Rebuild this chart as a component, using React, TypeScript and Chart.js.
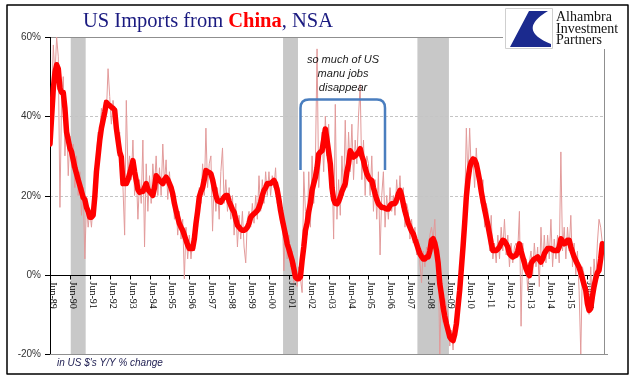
import { useEffect, useRef } from "react";
import { Chart, registerables } from "chart.js";

Chart.register(...registerables);

// Monthly series start at Jun-1989 (index 0) and end at Mar-2017
const START_YEAR = 1989;
const START_MONTH = 6;

const tickLabels = [
  "Jun-89", "Jun-90", "Jun-91", "Jun-92", "Jun-93", "Jun-94", "Jun-95", "Jun-96", "Jun-97",
  "Jun-98", "Jun-99", "Jun-00", "Jun-01", "Jun-02", "Jun-03", "Jun-04", "Jun-05", "Jun-06",
  "Jun-07", "Jun-08", "Jun-09", "Jun-10", "Jun-11", "Jun-12", "Jun-13", "Jun-14", "Jun-15", "Jun-16",
];

// Monthly Y/Y % change (thin line)
const rawYoY = [
  33, 45, 58, 50, 60, 55, 17, 45, 50, 30, 40, 25,
  35, 27, 33, 22, 30, 20, 26, 15, 22, 4, 18, 12,
  16, 12, 18, 22, 30, 36, 35, 42, 38, 44, 41, 52,
  45, 38, 44, 40, 42, 30, 36, 26, 22, 10, 44, 26,
  30, 24, 34, 20, 26, 14, 24, 18, 34, 7, 28, 16,
  25, 18, 28, 22, 30, 20, 27, 20, 33, 23, 29, 19,
  26, 20, 22, 14, 18, 10, 16, 9, 14, -1, 12, 4,
  10, 4, 9, 6, 16, 12, 22, 18, 28, 20, 37, 22,
  28, 30, 11, 24, 16, 22, 14, 26, 32, 18, 24, 16,
  22, 14, 20, 10, 18, 7, 15, 9, 16, 7, 3, 14,
  16, 12, 18, 13, 20, 14, 25, 16, 24, 18, 26, 20,
  26, 20, 25, 22, 27, 18, 22, 13, 17, 1, 13, 4,
  10, 2, 6, -2, 3, -3, 2, -1, -4.5, 26, 16, 10,
  26, 12, 30, 18, 28, 57, 22, 30, 36, 26, 40, 30,
  38, 26, 28, 9, 43, 14, 24, 15, 30, 20, 39, 22,
  36, 26, 38, 24, 34, 28, 40, 48, 24, 34, 20, 30,
  28, 20, 30, 16, 24, 14, 26, 5, 20, 26, 12, 20,
  14, 22, 16, 20, 15, 24, 18, 25, 17, 22, 12, 18,
  16, 9, 14, 8, 12, 5, 9, 3, -2, 6, 2, 7,
  6, 10, 12, 9, 14, 4, 6, -20, -2, -12, -6, -8,
  -10, -18, -14, -19, -13, -14, -4, -8, 4, 2, 16, 37,
  24, 37, 26, 30, 22, 32, 24, 26, 18, 24, 12, 18,
  16, 6, 15, 4, 8, 3, 10, 4, 12, 6, 14, 5,
  10, 2, 8, 3, 7, 8, 6, 16, -13, 8, 2, 4,
  -4, 3, 6, 0, 8, 2, 7, -3, 12, 2, 10, 3,
  10, 4, 14, 2, 9, 4, 10, 3, 31, 6, 12, 4,
  12, 6, 15, 2, 8, 0, 6, -4, -20, 2, 0, -6,
  -4, -10, 2, -8, 4, -2, 8, 14, 12, 8,
];

// Smoothed Y/Y % change (thick line)
const smoothYoY = [
  33, 40, 47, 51, 53, 52, 47, 46, 46, 42, 36, 34,
  32, 31, 29, 27, 25.5, 24, 22.5, 21, 19.5, 19, 17, 16,
  14.5, 14.5, 15, 19.6, 26, 30, 34, 37, 39, 41, 43.5, 43,
  42.7, 42.3, 42, 41.5, 37, 34, 31, 29.7, 23, 23, 23, 24,
  25.5, 27, 28.8, 26, 23.8, 21.5, 20.8, 21, 21, 22, 23, 21.5,
  21, 20.5, 20, 22, 25, 24.5, 23.8, 23.4, 23, 24, 24.6, 24,
  23, 22, 20.4, 18, 16.2, 14.5, 12.9, 12, 11.2, 10, 8.7, 7.5,
  6.6, 6.6, 6.6, 9, 12.9, 16, 19.6, 21, 22, 24, 26.3, 26,
  25.8, 25.5, 24, 22, 20, 18.7, 18.5, 18.3, 19, 19.6, 20, 20,
  18.5, 17.5, 16.5, 15.8, 14, 12.5, 12, 11.5, 11.2, 11.2, 11.5, 12,
  13, 14.5, 15, 15.4, 15.8, 16.2, 17, 18.3, 20, 21.3, 22, 23,
  23, 23, 23.4, 23.8, 23, 21.3, 19, 16.2, 14, 12, 10, 7.8,
  6.5, 5, 3.6, 1.5, -0.6, -1, -1, -0.5, 3.6, 7, 11.2, 13,
  16, 18, 21.3, 23, 24.6, 27, 30.5, 31, 31.3, 34, 36.8, 34,
  31, 28, 22, 19, 18, 17.9, 18.5, 19.6, 21, 22, 23, 26,
  28, 31.3, 30.5, 29.7, 30, 30.5, 31, 31.8, 30, 28.8, 27, 25.5,
  24.6, 24, 23.8, 22, 20.4, 19, 17.9, 17.5, 17, 17, 16.8, 16.6,
  16.6, 17.5, 17.9, 17.9, 18, 19, 20.4, 21.3, 20, 17.9, 16, 14.5,
  13, 12, 11, 10.3, 9, 7.8, 6.5, 5.3, 4.6, 4, 4, 4.5,
  4.5, 6, 8.7, 9.1, 8, 6.1, 3, -2.3, -5, -8.2, -10.5, -12.4,
  -14, -15.7, -16.3, -16.6, -15, -12.4, -8, -3.9, 1.5, 7, 13, 19.6,
  24, 27, 28.5, 29.2, 29, 28, 26, 23.8, 21, 18.7, 16.5, 14.5,
  12.5, 10.3, 8, 6.1, 6.1, 6.1, 6.5, 7, 8, 8.7, 8.5, 7.8,
  7, 5.3, 4.8, 4.5, 4.7, 4.9, 6, 7.8, 6, 4.5, 3, 1.5,
  0.5, -0.2, 2.8, 3.5, 4, 4.2, 4.5, 3.8, 3.2, 4, 5.3, 6,
  6.6, 6.6, 6.6, 6.3, 6.1, 6.1, 6.1, 7, 9.1, 8.5, 7.8, 8,
  8.7, 8.7, 7, 5.7, 4.5, 3.6, 2.7, 1.9, 0.5, -1, -2.5, -3.9,
  -7.3, -9, -8.5, -5.5, -3, -1, 0.5, 1.1, 4, 7.8,
];

const recessions = [
  ["Jul-90", "Mar-91"],
  ["Mar-01", "Nov-01"],
  ["Dec-07", "Jun-09"],
];

const yTicks = [60, 40, 20, 0, -20];
const dashedGrid = [20, 40];
const annotationLines = ["so much of US", "manu jobs", "disappear"];
const logoLines = ["Alhambra", "Investment", "Partners"];

const MONTHS = ["Jan", "Feb", "Mar", "Apr", "May", "Jun", "Jul", "Aug", "Sep", "Oct", "Nov", "Dec"];
function monthIndex(label: string): number {
  const [m, yy] = label.split("-");
  const yn = parseInt(yy, 10);
  const year = yn >= 50 ? 1900 + yn : 2000 + yn;
  return (year - START_YEAR) * 12 + (MONTHS.indexOf(m) + 1 - START_MONTH);
}

const NAVY = "#1a1a80";

const decor = {
  id: "decor",
  beforeDatasetsDraw(chart: any) {
    const { ctx, chartArea: a, scales } = chart;
    const x = scales.x;
    const y = scales.y;
    ctx.save();
    // recession bands
    ctx.fillStyle = "#c8c8c8";
    recessions.forEach(([s, e]) => {
      const x1 = x.getPixelForValue(monthIndex(s) - 0.5);
      const x2 = x.getPixelForValue(monthIndex(e) + 0.5);
      ctx.fillRect(x1, a.top, x2 - x1, a.bottom - a.top);
    });
    const hline = (py: number, x1: number, x2: number) => {
      ctx.beginPath();
      ctx.moveTo(x1, py);
      ctx.lineTo(x2, py);
      ctx.stroke();
    };
    // dashed gridlines
    ctx.lineWidth = 1;
    ctx.strokeStyle = "#c4c4c4";
    ctx.setLineDash([3, 2]);
    dashedGrid.forEach((v) => hline(Math.round(y.getPixelForValue(v)) + 0.5, a.left, a.right));
    ctx.setLineDash([]);
    // gray frame of plot
    ctx.strokeStyle = "#8f8f8f";
    hline(Math.round(y.getPixelForValue(60)) + 0.5, a.left, a.right);
    hline(Math.round(y.getPixelForValue(-20)) + 0.5, a.left, a.right + 4);
    ctx.beginPath();
    ctx.moveTo(Math.round(a.right) + 0.5, a.top);
    ctx.lineTo(Math.round(a.right) + 0.5, a.bottom);
    ctx.stroke();
    // left axis
    ctx.strokeStyle = "#000";
    const lx = Math.round(a.left) + 0.5;
    ctx.beginPath();
    ctx.moveTo(lx, a.top);
    ctx.lineTo(lx, a.bottom);
    ctx.stroke();
    // y ticks & labels
    ctx.font = "10px 'Liberation Sans'";
    ctx.fillStyle = "#333";
    ctx.textAlign = "right";
    ctx.textBaseline = "middle";
    yTicks.forEach((v) => {
      const py = Math.round(y.getPixelForValue(v)) + 0.5;
      hline(py, a.left - 5, a.left);
      ctx.fillText(v + "%", a.left - 9, py);
    });
    // zero axis
    const y0 = Math.round(y.getPixelForValue(0)) + 0.5;
    hline(y0, a.left, a.right);
    tickLabels.forEach((lab) => {
      const px = Math.round(x.getPixelForValue(monthIndex(lab))) + 0.5;
      ctx.beginPath();
      ctx.moveTo(px, y0);
      ctx.lineTo(px, y0 + 4);
      ctx.stroke();
    });
    // x labels rotated (reading top to bottom)
    ctx.font = "10px 'Liberation Serif'";
    ctx.fillStyle = "#000";
    ctx.textAlign = "left";
    ctx.textBaseline = "alphabetic";
    tickLabels.forEach((lab) => {
      const px = x.getPixelForValue(monthIndex(lab));
      ctx.save();
      ctx.translate(px, y0 + 6);
      ctx.rotate(Math.PI / 2);
      ctx.fillText(lab, 0, 0);
      ctx.restore();
    });
    ctx.restore();
  },
  afterDatasetsDraw(chart: any) {
    const { ctx } = chart;
    ctx.save();
    // annotation text
    ctx.font = "italic 11px 'Liberation Sans'";
    ctx.fillStyle = "#1a1a1a";
    ctx.textAlign = "center";
    ctx.textBaseline = "alphabetic";
    annotationLines.forEach((t, i) => ctx.fillText(t, 343, 63 + i * 14));
    // bracket
    ctx.strokeStyle = "#4a7ebf";
    ctx.lineWidth = 2.5;
    ctx.lineJoin = "round";
    ctx.beginPath();
    ctx.moveTo(300.5, 170);
    ctx.lineTo(300.5, 108);
    ctx.quadraticCurveTo(300.5, 99.5, 309, 99.5);
    ctx.lineTo(377, 99.5);
    ctx.quadraticCurveTo(385, 99.5, 385, 108);
    ctx.lineTo(385, 170);
    ctx.stroke();

    // logo area
    ctx.fillStyle = "#fff";
    ctx.fillRect(503, 6, 124, 43);
    ctx.strokeStyle = "#cfcfcf";
    ctx.lineWidth = 1;
    ctx.strokeRect(505.5, 8.5, 47, 40);
    ctx.fillStyle = "#1b2a8e";
    ctx.beginPath();
    ctx.moveTo(529, 11);
    ctx.lineTo(548, 11);
    ctx.quadraticCurveTo(516, 30, 551, 44);
    ctx.lineTo(551, 47);
    ctx.lineTo(510, 47);
    ctx.closePath();
    ctx.fill();
    ctx.fillStyle = "#111";
    ctx.font = "14px 'Liberation Serif'";
    ctx.textAlign = "left";
    logoLines.forEach((t, i) => ctx.fillText(t, 556, 21 + i * 11.5));

    // title
    ctx.font = "20.5px 'Liberation Serif'";
    ctx.textAlign = "left";
    let tx = 83;
    const ty = 27;
    ctx.fillStyle = NAVY;
    ctx.fillText("US Imports from ", tx, ty);
    tx += ctx.measureText("US Imports from ").width;
    ctx.font = "bold 20.5px 'Liberation Serif'";
    ctx.fillStyle = "#ff0000";
    ctx.fillText("China", tx, ty);
    tx += ctx.measureText("China").width;
    ctx.font = "20.5px 'Liberation Serif'";
    ctx.fillStyle = NAVY;
    ctx.fillText(", NSA", tx, ty);

    // unit note
    ctx.font = "italic 10px 'Liberation Sans'";
    ctx.fillStyle = "#1c1c50";
    ctx.fillText("in US $'s Y/Y % change", 57, 366);

    // outer frame
    ctx.strokeStyle = "#000";
    ctx.lineWidth = 1.5;
    ctx.strokeRect(7, 5, 621, 369);
    ctx.restore();
  },
};

export default function App() {
  const ref = useRef<HTMLCanvasElement | null>(null);
  useEffect(() => {
    document.body.style.margin = "0";
    const canvas = ref.current!;
    const chart = new Chart(canvas, {
      type: "line",
      data: {
        datasets: [
          {
            label: "Smoothed",
            data: smoothYoY.map((v, i) => ({ x: i, y: v })),
            borderColor: "#ff0000",
            borderWidth: 5.5,
            pointRadius: 0,
            tension: 0,
            borderJoinStyle: "round",
            borderCapStyle: "round",
          },
          {
            label: "Monthly",
            data: rawYoY.map((v, i) => ({ x: i, y: v })),
            borderColor: "#e29a9a",
            borderWidth: 1,
            pointRadius: 0,
            tension: 0,
          },
        ],
      },
      options: {
        animation: false,
        responsive: false,
        devicePixelRatio: 1,
        events: [],
        layout: { padding: { left: 50, right: 36, top: 37, bottom: 26 } },
        scales: {
          x: { type: "linear", min: 0, max: 334, display: false },
          y: { type: "linear", min: -20, max: 60, display: false },
        },
        plugins: { legend: { display: false }, tooltip: { enabled: false } },
      },
      plugins: [decor],
    } as any);
    return () => chart.destroy();
  }, []);
  return (
    <div style={{ position: "fixed", left: 0, top: 0, width: 640, height: 380, background: "#fff" }}>
      <canvas ref={ref} width={640} height={380} style={{ width: 640, height: 380 }} />
    </div>
  );
}
